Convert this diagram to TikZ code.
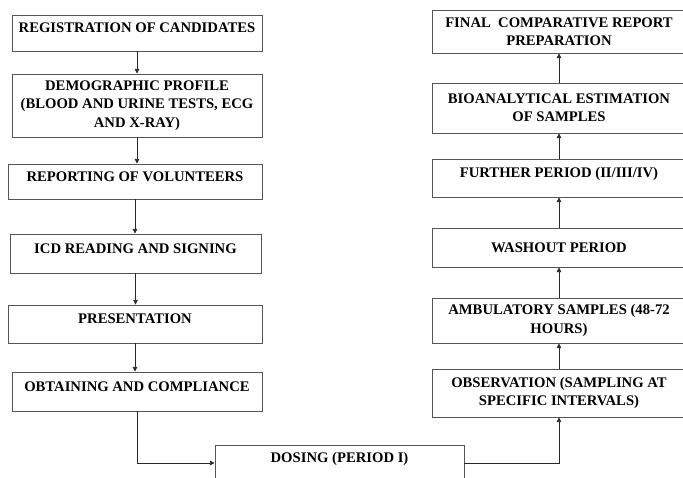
\documentclass[tikz,border=0pt]{standalone}
\usepackage{fontspec}
\setmainfont{Liberation Serif}
\usepackage{tikz}
\usetikzlibrary{positioning, arrows.meta, calc}
\definecolor{boxline}{RGB}{85,85,85}
\definecolor{linkline}{RGB}{40,40,40}

\begin{document}
\begin{tikzpicture}[x=0.75pt, y=-0.75pt,
        stagebox/.style={draw=boxline, fill=white, line width=0.7pt, align=center,
              inner xsep=2pt, font=\fontsize{11}{13.75}\selectfont\bfseries},
        single/.style={text height=7pt, text depth=7.5pt},
        link/.style={-{Triangle[length=3.5pt, width=3.5pt]}, line width=0.6pt, linkline}]
        \useasboundingbox (0,0) rectangle (683,478);
        \fill[white] (0,0) rectangle (683,478);
        \clip (0,0) rectangle (683,478);

        % Left column
        \node[stagebox, single, minimum width=187.5pt, minimum height=27pt] (reg) at (137,33)
            {REGISTRATION OF CANDIDATES};
        \node[stagebox, minimum width=187.5pt, minimum height=47.25pt] (demo) at (137,105.5)
            {DEMOGRAPHIC PROFILE\\(BLOOD AND URINE TESTS, ECG\\AND X-RAY)};
        \node[stagebox, single, minimum width=190.5pt, minimum height=26.25pt] (rep) at (135,181.5)
            {REPORTING OF VOLUNTEERS};
        \node[stagebox, single, minimum width=188.25pt, minimum height=29.25pt] (icd) at (135.5,253.5)
            {ICD READING AND SIGNING};
        \node[stagebox, single, minimum width=190.5pt, minimum height=28.5pt] (pres) at (135,324)
            {PRESENTATION};
        \node[stagebox, single, minimum width=187.5pt, minimum height=29.25pt] (obt) at (137,391.5)
            {OBTAINING AND COMPLIANCE};

        \draw[link] (reg.south) -- (reg.south |- demo.north);
        \draw[link] (demo.south) -- (demo.south |- rep.north);
        \draw[link] (rep.south) -- (rep.south |- icd.north);
        \draw[link] (icd.south) -- (icd.south |- pres.north);
        \draw[link] (pres.south) -- (pres.south |- obt.north);

        % Dosing
        \node[stagebox, single, minimum width=186.75pt, minimum height=27pt] (dose) at (339.5,463)
            {DOSING (PERIOD I)};
        \draw[link] (obt.south) |- (dose.west);

        % Right column
        \node[stagebox, minimum width=190.5pt, minimum height=36pt] (obs) at (559,393)
            {OBSERVATION (SAMPLING AT\\SPECIFIC INTERVALS)};
        \node[stagebox, minimum width=190.5pt, minimum height=33.75pt] (amb) at (559,320.5)
            {AMBULATORY SAMPLES (48-72\\HOURS)};
        \node[stagebox, minimum width=190.5pt, minimum height=29.25pt] (wash) at (559,247.5)
            {WASHOUT PERIOD};
        \node[stagebox, single, minimum width=190.5pt, minimum height=28.5pt] (furth) at (559,178)
            {FURTHER PERIOD (II/III/IV)};
        \node[stagebox, minimum width=190.5pt, minimum height=37.5pt] (bio) at (559,108)
            {BIOANALYTICAL ESTIMATION\\OF SAMPLES};
        \node[stagebox, minimum width=190.5pt, minimum height=32.25pt] (fin) at (559,31.5)
            {FINAL\ \ COMPARATIVE REPORT\\PREPARATION};

        \draw[link] (dose.east) -| (obs.south);
        \draw[link] (obs.north) -- (obs.north |- amb.south);
        \draw[link] (amb.north) -- (amb.north |- wash.south);
        \draw[link] (wash.north) -- (wash.north |- furth.south);
        \draw[link] (furth.north) -- (furth.north |- bio.south);
        \draw[link] (bio.north) -- (bio.north |- fin.south);
    \end{tikzpicture}
\end{document}
